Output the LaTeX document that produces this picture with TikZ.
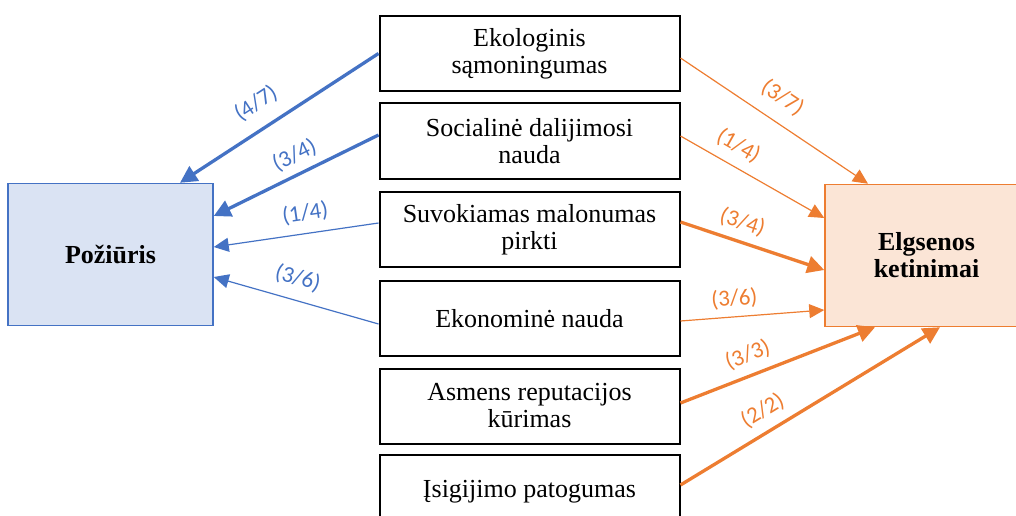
\documentclass[tikz,border=0pt]{standalone}
\usepackage{fontspec}
\setmainfont{Liberation Serif}
\newfontfamily\labfont{Carlito}
\usetikzlibrary{arrows.meta}
\definecolor{attblue}{HTML}{4472C4}
\definecolor{intorange}{HTML}{ED7D31}
\definecolor{attfill}{HTML}{DAE3F3}
\definecolor{intfill}{HTML}{FBE5D6}

\begin{document}
\begin{tikzpicture}[x=1pt,y=-1pt,
  factor/.style={draw=black, line width=2pt, fill=white,
    minimum width=300pt, minimum height=75pt, inner sep=0pt,
    align=center, font=\fontsize{26}{27}\selectfont},
  outcome/.style={line width=1.5pt, minimum height=142pt, inner sep=0pt,
    align=center, font=\fontsize{26}{27}\selectfont\bfseries},
  bthin/.style={draw=attblue, line width=1.2pt, -{Triangle[length=15pt,width=14pt]}},
  bthick/.style={draw=attblue, line width=3.3pt, -{Triangle[length=17pt,width=17pt]}},
  othin/.style={draw=intorange, line width=1.2pt, -{Triangle[length=15pt,width=14pt]}},
  othick/.style={draw=intorange, line width=3.3pt, -{Triangle[length=17pt,width=17pt]}},
  lbl/.style={sloped, anchor=center, inner sep=0pt,
    font=\labfont\fontsize{23}{23}\selectfont},
  blbl/.style={lbl, text=attblue},
  olbl/.style={lbl, text=intorange},
]
\clip (0,0) rectangle (1016,516);

% outcome boxes
\node[outcome, draw=attblue, fill=attfill, minimum width=205pt] (poz) at (110.5,254.5) {Požiūris};
\node[outcome, draw=intorange, fill=intfill, minimum width=203pt] (elg) at (926.5,255.5) {Elgsenos\\ketinimai};

% factor boxes
\node[factor] (b1) at (529.5,53.5) {Ekologinis\\sąmoningumas};
\node[factor] (b2) at (529.5,141) {Socialinė dalijimosi\\nauda};
\node[factor] (b3) at (529.5,229.5) {Suvokiamas malonumas\\pirkti};
\node[factor] (b4) at (529.5,318.5) {Ekonominė nauda};
\node[factor] (b5) at (529.5,406) {Asmens reputacijos\\kūrimas};
\node[factor] (b6) at (529.5,492) {Įsigijimo patogumas};

% paths to attitude
\draw[bthick] (b1.west) -- ([xshift=69.5pt]poz.north)
  node[blbl, pos=0.549, yshift=25pt] {(4/7)};
\draw[bthick] ([yshift=6pt]b2.west) -- ([yshift=38.5pt]poz.east)
  node[blbl, pos=0.459, yshift=19pt] {(3/4)};
\draw[bthin] ([yshift=6.5pt]b3.west) -- ([yshift=7.5pt]poz.east)
  node[blbl, pos=0.427, yshift=20.5pt] {(1/4)};
\draw[bthin] ([yshift=-5.5pt]b4.west) -- ([yshift=-22.5pt]poz.east)
  node[blbl, pos=0.526, yshift=22pt] {(3/6)};

% paths to behavioural intention
\draw[othin] ([yshift=-4.5pt]b1.east) -- ([xshift=-58.5pt]elg.north)
  node[olbl, pos=0.473, yshift=24pt] {(3/7)};
\draw[othin] ([yshift=5pt]b2.east) -- ([yshift=37.5pt]elg.west)
  node[olbl, pos=0.334, yshift=20pt] {(1/4)};
\draw[othick] ([yshift=7.5pt]b3.east) -- ([yshift=-14.5pt]elg.west)
  node[olbl, pos=0.388, yshift=19.5pt] {(3/4)};
\draw[othin] ([yshift=-2.5pt]b4.east) -- ([yshift=-54.5pt]elg.west)
  node[olbl, pos=0.384, yshift=18pt] {(3/6)};
\draw[othick] ([yshift=3pt]b5.east) -- ([xshift=-51.5pt]elg.south)
  node[olbl, pos=0.384, yshift=20.5pt] {(3/3)};
\draw[othick] ([yshift=7pt]b6.east) -- ([xshift=13.5pt]elg.south)
  node[olbl, pos=0.358, yshift=21pt] {(2/2)};
\end{tikzpicture}
\end{document}
